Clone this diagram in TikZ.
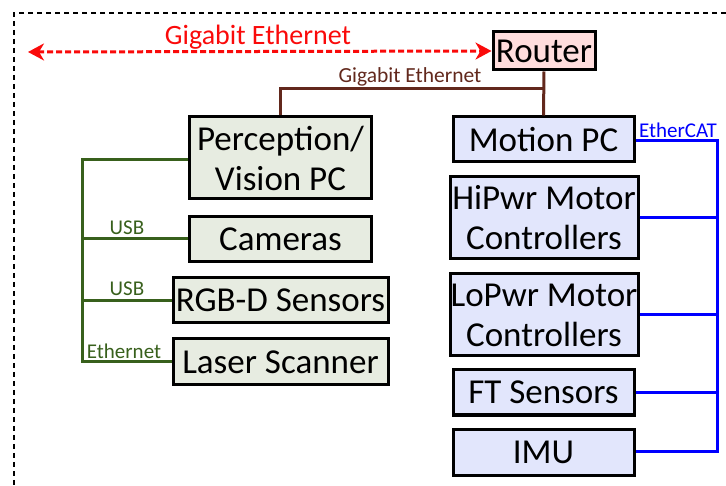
\documentclass[tikz,border=0pt]{standalone}
\usepackage{fontspec}
\setmainfont{Carlito}
\usetikzlibrary{arrows.meta}
\definecolor{pinkfill}{RGB}{255,221,221}
\definecolor{greenfill}{RGB}{231,236,225}
\definecolor{bluefill}{RGB}{226,230,252}
\definecolor{brownline}{RGB}{98,40,28}
\definecolor{greenline}{RGB}{56,96,28}
\definecolor{redline}{RGB}{250,10,10}
\definecolor{blueline}{RGB}{0,0,255}
\tikzset{
  box/.style={draw=black, line width=3pt, inner sep=0pt, align=center,
    font=\fontsize{35}{40}\selectfont},
  gbox/.style={box, fill=greenfill},
  bbox/.style={box, fill=bluefill},
  glab/.style={text=greenline, font=\fontsize{21}{24}\selectfont, inner sep=0pt},
  conn/.style={line width=3pt},
}
\begin{document}
\begin{tikzpicture}[x=1pt,y=-1pt]
\useasboundingbox (0,0) rectangle (726,486);
% outer dashed border
\draw[line width=2.8pt, dash pattern=on 5pt off 4pt] (726,13) -- (14,13) -- (14,486);

% nodes
\node[box, fill=pinkfill, minimum width=102, minimum height=38] (router) at (544,51) {Router};
\node[gbox, minimum width=182, minimum height=82] (perc) at (280.5,158) {Perception/\\Vision PC};
\node[gbox, minimum width=182, minimum height=45] (cam) at (280.5,239) {Cameras};
\node[gbox, minimum width=215, minimum height=45] (rgbd) at (280.5,300.5) {RGB-D Sensors};
\node[gbox, minimum width=215, minimum height=46] (laser) at (280.5,362) {Laser Scanner};
\node[bbox, minimum width=181, minimum height=45] (motion) at (543.5,139.5) {Motion PC};
\node[bbox, minimum width=188, minimum height=82] (hipwr) at (544,218) {HiPwr Motor\\Controllers};
\node[bbox, minimum width=188, minimum height=82] (lopwr) at (544,315) {LoPwr Motor\\Controllers};
\node[bbox, minimum width=181, minimum height=45] (ft) at (543.5,392.5) {FT Sensors};
\node[bbox, minimum width=181, minimum height=46] (imu) at (543.5,452) {IMU};

% red gigabit ethernet arrow
\coordinate (ra) at (28,52);
\draw[redline, line width=3pt, dash pattern=on 6pt off 3pt,
  {Stealth[length=16pt,width=17pt,inset=5pt]}-{Stealth[length=16pt,width=17pt,inset=5pt]}]
  (ra) -- (router.west);
\node[text=redline, font=\fontsize{28}{31}\selectfont, inner sep=0pt] (redlab) at (258,37) {Gigabit Ethernet};

% brown connections
\coordinate (bj) at (544,89);
\draw[brownline, conn] (router.south) -- (motion.north);
\draw[brownline, conn] (bj) -| (perc.north);
\node[text=brownline, font=\fontsize{21.5}{24}\selectfont, inner sep=0pt] (brlab) at (410,77) {Gigabit Ethernet};

% green bus
\coordinate (gt) at (82,160);
\coordinate (gb) at (82,362);
\draw[greenline, conn] (perc.west |- gt) -- (gt) -- (gb) -- (laser.west |- gb);
\draw[greenline, conn] (cam.west) -- (cam.west -| gt);
\draw[greenline, conn] (rgbd.west) -- (rgbd.west -| gt);
\node[glab] (usb1) at (127,228) {USB};
\node[glab] (usb2) at (127,289) {USB};
\node[glab] (eth) at (124,351) {Ethernet};

% blue EtherCAT bus
\coordinate (bt) at (717,141);
\coordinate (bb) at (717,451);
\draw[blueline, conn] (motion.east |- bt) -- (bt) -- (bb) -- (imu.east |- bb);
\draw[blueline, conn] (hipwr.east) -- (hipwr.east -| bt);
\draw[blueline, conn] (lopwr.east) -- (lopwr.east -| bt);
\draw[blueline, conn] (ft.east) -- (ft.east -| bt);
\node[text=blueline, font=\fontsize{21}{24}\selectfont, inner sep=0pt] (ecat) at (678,130) {EtherCAT};
\end{tikzpicture}
\end{document}
